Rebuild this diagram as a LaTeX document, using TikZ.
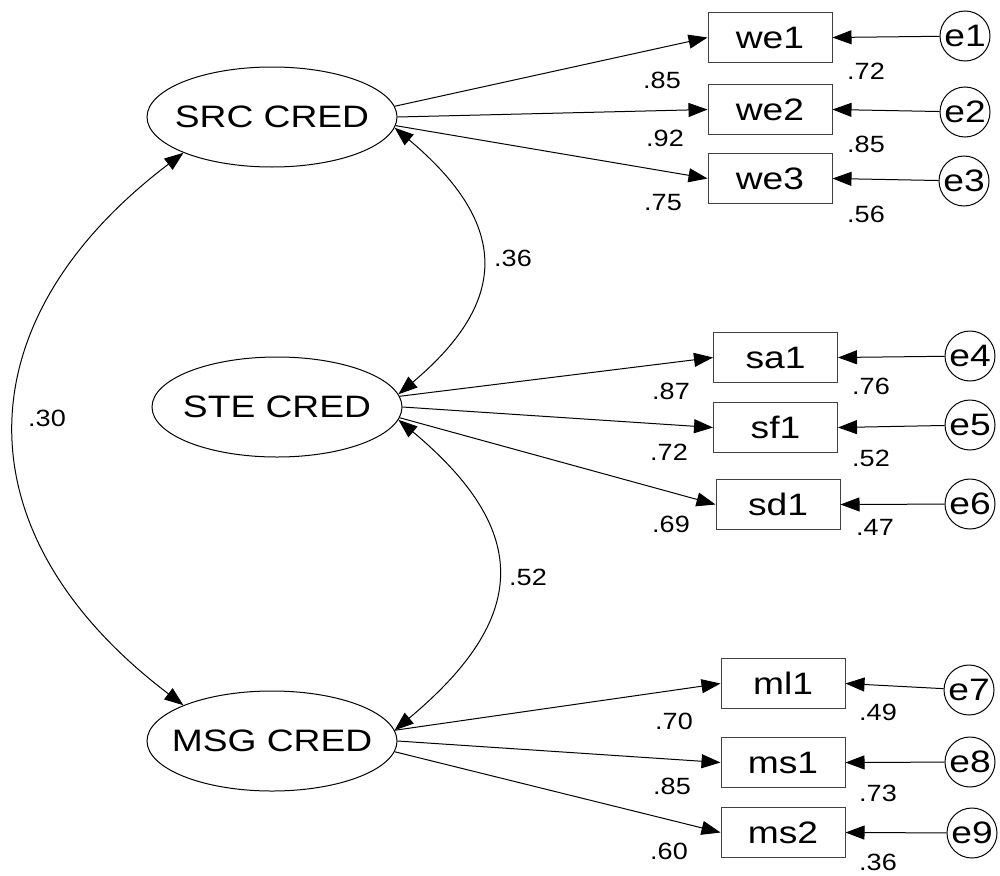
\documentclass[tikz,border=0pt]{standalone}
\usepackage{fontspec}
\setmainfont{Liberation Sans}[FakeStretch=1.15]
\newfontfamily\varfont{Liberation Sans}[FakeStretch=1.2]
\usetikzlibrary{arrows.meta, shapes.geometric}

\tikzset{
  latent/.style={draw, ellipse, minimum width=250pt, minimum height=100pt, inner xsep=-20pt, inner ysep=0pt, font=\varfont\fontsize{31}{31}\selectfont},
  obs/.style={draw=black!75, rectangle, minimum width=124pt, minimum height=50pt, inner sep=0pt, font=\varfont\fontsize{31}{31}\selectfont},
  err/.style={draw, circle, minimum size=50pt, inner sep=0pt, font=\varfont\fontsize{31}{31}\selectfont},
  lbl/.style={inner sep=0pt, font=\fontsize{23.5}{23.5}\selectfont},
  load/.style={-{Triangle[length=19pt,width=14pt]}},
  cov/.style={{Triangle[length=19pt,width=14pt]}-{Triangle[length=19pt,width=14pt]}}
}

\begin{document}
\begin{tikzpicture}[x=1pt, y=-1pt, line width=1pt]
  \fill[white] (0,0) rectangle (1000,875);
  \useasboundingbox (0,0) rectangle (1000,875);
  % factors
  \node[latent] (src) at (272,117) {SRC CRED};
  \node[latent] (ste) at (277,407) {STE CRED};
  \node[latent] (msg) at (272,741) {MSG CRED};
  % indicators
  \node[obs] (we1) at (770,37.5) {we1};
  \node[obs] (we2) at (770,109.5) {we2};
  \node[obs] (we3) at (770,178.5) {we3};
  \node[obs] (sa1) at (775.5,357.5) {sa1};
  \node[obs] (sf1) at (775.5,427.5) {sf1};
  \node[obs] (sd1) at (778,504.5) {sd1};
  \node[obs] (ml1) at (783,683.5) {ml1};
  \node[obs] (ms1) at (783,762.5) {ms1};
  \node[obs] (ms2) at (783,832.5) {ms2};
  % errors
  \node[err] (e1) at (965,36) {e1};
  \node[err] (e2) at (965,112) {e2};
  \node[err] (e3) at (964,181) {e3};
  \node[err] (e4) at (970,356) {e4};
  \node[err] (e5) at (970,425) {e5};
  \node[err] (e6) at (970,504) {e6};
  \node[err] (e7) at (969,690) {e7};
  \node[err] (e8) at (970,762) {e8};
  \node[err] (e9) at (972,833) {e9};
  % loadings
  \draw[load] (src.5) -- (we1.west);
  \draw[load] (src.0) -- (we2.west);
  \draw[load] (src.-4) -- (we3.west);
  \draw[load] (ste.5) -- (sa1.west);
  \draw[load] (ste.0) -- (sf1.west);
  \draw[load] (ste.-5) -- (sd1.west);
  \draw[load] (msg.5) -- (ml1.west);
  \draw[load] (msg.0) -- (ms1.west);
  \draw[load] (msg.-5) -- (ms2.west);
  % error paths
  \draw[load] (e1) -- (we1.east);
  \draw[load] (e2) -- (we2.east);
  \draw[load] (e3) -- (we3.east);
  \draw[load] (e4) -- (sa1.east);
  \draw[load] (e5) -- (sf1.east);
  \draw[load] (e6) -- (sd1.east);
  \draw[load] (e7) -- (ml1.east);
  \draw[load] (e8) -- (ms1.east);
  \draw[load] (e9) -- (ms2.east);
  % correlations
  \draw[cov] (src.-5) .. controls +(113,95) and +(113,-95) .. (ste.6);
  \draw[cov] (ste.-6) .. controls +(134,112) and +(134,-112) .. (msg.5);
  \draw[cov] (src.202) .. controls +(-224,170) and +(-224,-170) .. (msg.158);
  % estimates
  \node[lbl] (l-we1) at (662,80) {.85};
  \node[lbl] (l-we2) at (665,138) {.92};
  \node[lbl] (l-we3) at (663,203) {.75};
  \node[lbl] (r-we1) at (866,71) {.72};
  \node[lbl] (r-we2) at (866,144) {.85};
  \node[lbl] (r-we3) at (866,214) {.56};
  \node[lbl] (l-sa1) at (671,391) {.87};
  \node[lbl] (l-sf1) at (669,452) {.72};
  \node[lbl] (l-sd1) at (671,524) {.69};
  \node[lbl] (r-sa1) at (871,386) {.76};
  \node[lbl] (r-sf1) at (871,458) {.52};
  \node[lbl] (r-sd1) at (875,527) {.47};
  \node[lbl] (l-ml1) at (674,721) {.70};
  \node[lbl] (l-ms1) at (672,786) {.85};
  \node[lbl] (l-ms2) at (669,851) {.60};
  \node[lbl] (r-ml1) at (878,712) {.49};
  \node[lbl] (r-ms1) at (878,793) {.73};
  \node[lbl] (r-ms2) at (878,862) {.36};
  \node[lbl] (c-ss) at (513,258) {.36};
  \node[lbl] (c-sm) at (528,577) {.52};
  \node[lbl] (c-rm) at (47,418) {.30};
\end{tikzpicture}
\end{document}
